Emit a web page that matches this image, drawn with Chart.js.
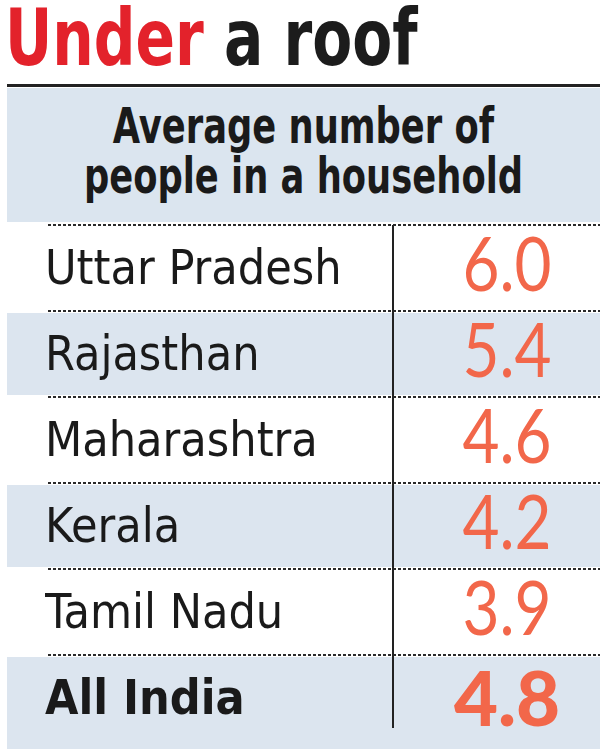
<!DOCTYPE html>
<html>
<head>
<meta charset="utf-8">
<script src="https://cdn.jsdelivr.net/npm/chart.js@4"></script>
<style>
  html, body { margin: 0; padding: 0; background: #fff; width: 600px; height: 749px; overflow: hidden; }
  #title { position: absolute; left: 5px; top: -1px; font: bold 78px/1 "DejaVu Sans Condensed", sans-serif; color: #1c1c1c; white-space: nowrap; transform: scaleX(0.83); transform-origin: 0 0; }
  #title span { color: #e3222b; }
  #rule { position: absolute; left: 7px; top: 84px; width: 593px; height: 3px; background: #222; }
  #header { position: absolute; left: 7px; top: 88px; width: 593px; height: 121px; padding-top: 13px; background: #dbe5ef; }
  #header div { text-align: center; font: bold 50px/50px "DejaVu Sans Condensed", sans-serif; color: #1a1a1a; transform: scaleX(0.785); transform-origin: 50% 0; white-space: nowrap; }
  #wrap { position: absolute; left: 0; top: 222px; width: 600px; height: 527px; }
</style>
</head>
<body>
<div id="title"><span>Under</span> a roof</div>
<div id="rule"></div>
<div id="header"><div>Average number of<br>people in a household</div></div>
<div id="wrap"><canvas id="table"></canvas></div>
<script>
// average household size by state
const states = ['Uttar Pradesh', 'Rajasthan', 'Maharashtra', 'Kerala', 'Tamil Nadu', 'All India'];
const householdSize = [6.0, 5.4, 4.6, 4.2, 3.9, 4.8];

const STRIPE = '#dce5ef';
const VALUE_COLOR = '#f2674a';
const LABEL_FONT = '"DejaVu Sans Condensed", sans-serif';
const VALUE_FONT = 'Lato, Roboto, sans-serif';

// stripes, dotted row rules and the column divider
const tableDecor = {
  id: 'tableDecor',
  beforeDraw(chart) {
    const { ctx, chartArea, scales: { y } } = chart;
    const band = y.getPixelForTick(1) - y.getPixelForTick(0);
    const last = states.length - 1;
    ctx.save();
    states.forEach((s, i) => {
      const top = y.getPixelForTick(i) - band / 2;
      if (i % 2 === 1) {
        const bottom = i === last ? chart.height : top + band - 2;
        ctx.fillStyle = STRIPE;
        ctx.fillRect(7, top + 2, chart.width - 7, bottom - top - 2);
      }
    });
    ctx.strokeStyle = '#2a2a2a';
    ctx.lineWidth = 2;
    ctx.setLineDash([3, 2]);
    states.forEach((s, i) => {
      const top = Math.round(y.getPixelForTick(i) - band / 2);
      ctx.beginPath();
      ctx.moveTo(48, top);
      ctx.lineTo(chart.width, top);
      ctx.stroke();
    });
    ctx.setLineDash([]);
    ctx.strokeStyle = '#222';
    ctx.beginPath();
    ctx.moveTo(chartArea.left, y.getPixelForTick(0) - band / 2);
    ctx.lineTo(chartArea.left, y.getPixelForTick(last) + band * 0.35);
    ctx.stroke();
    ctx.restore();
  }
};

// the numbers in the right column (light and narrow, last one heavy)
const valueLabels = {
  id: 'valueLabels',
  afterDatasetsDraw(chart) {
    const { ctx, chartArea } = chart;
    const meta = chart.getDatasetMeta(0);
    const cx = chartArea.left + 114;
    ctx.fillStyle = VALUE_COLOR;
    ctx.textAlign = 'center';
    ctx.textBaseline = 'alphabetic';
    meta.data.forEach((bar, i) => {
      const total = i === states.length - 1;
      ctx.save();
      ctx.translate(cx, bar.y + (total ? 28 : 23));
      if (!total) ctx.scale(0.84, 1);
      ctx.font = (total ? '900' : '400') + ' 76px ' + VALUE_FONT;
      ctx.fillText(householdSize[i].toFixed(1), 0, 0);
      ctx.restore();
    });
  }
};

new Chart(document.getElementById('table'), {
  type: 'bar',
  data: {
    labels: states,
    datasets: [{
      data: householdSize,
      backgroundColor: 'rgba(0,0,0,0)',
      borderWidth: 0
    }]
  },
  options: {
    indexAxis: 'y',
    responsive: true,
    maintainAspectRatio: false,
    animation: false,
    layout: { padding: { top: 3, bottom: 8, left: 45, right: 0 } },
    plugins: { legend: { display: false }, tooltip: { enabled: false } },
    scales: {
      x: { display: false, min: 0, max: 7 },
      y: {
        grid: { display: false },
        border: { display: false },
        afterFit(scale) {
          scale.width = 348;
          scale.paddingTop = 0;
          scale.paddingBottom = 0;
        },
        ticks: {
          crossAlign: 'far',
          padding: 0,
          labelOffset: 4,
          color: '#1a1a1a',
          font: (c) => ({ family: LABEL_FONT, size: 48, weight: c.index === states.length - 1 ? 'bold' : 'normal' })
        }
      }
    }
  },
  plugins: [tableDecor, valueLabels]
});
</script>
</body>
</html>
